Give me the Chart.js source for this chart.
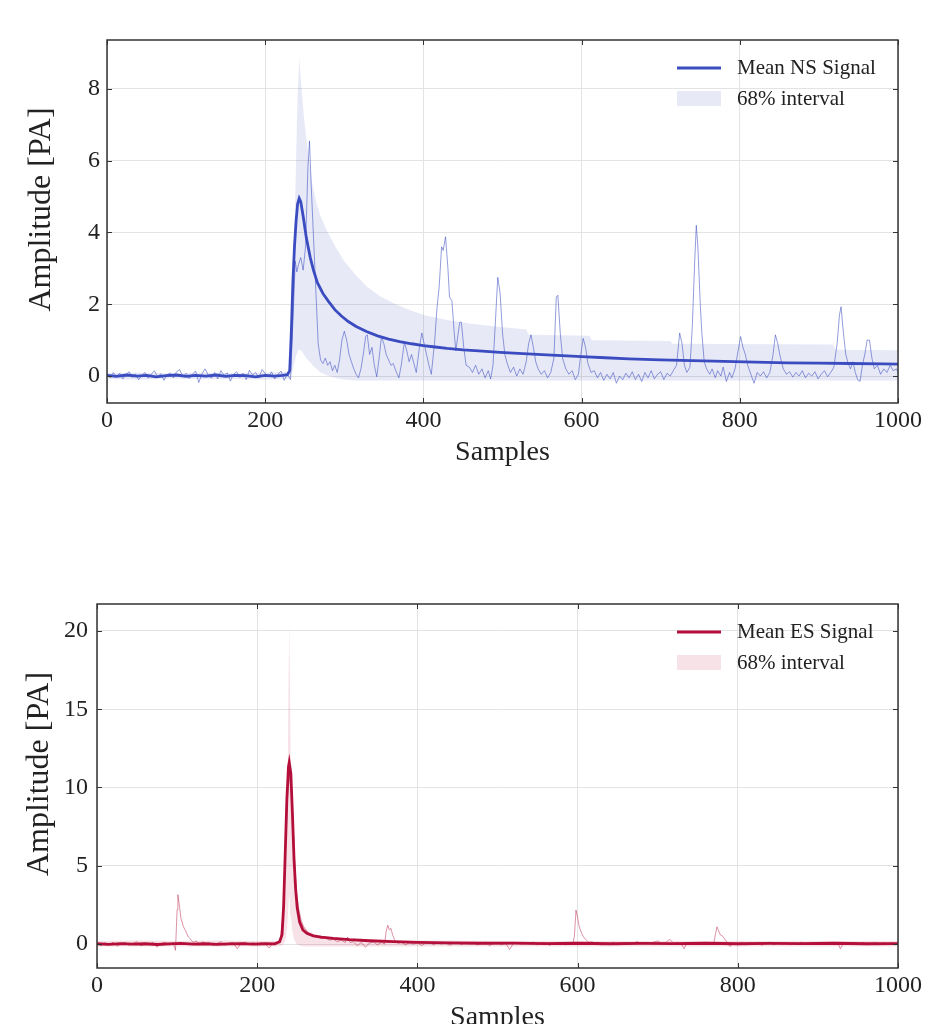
<!DOCTYPE html>
<html>
<head>
<meta charset="utf-8">
<script src="https://cdn.jsdelivr.net/npm/chart.js@4.4.1/dist/chart.umd.min.js"></script>
<style>
  html, body { margin: 0; padding: 0; background: #fff; overflow: hidden; }
  canvas { display: block; }
</style>
</head>
<body>
<canvas id="nsChart" width="927" height="490"></canvas>
<canvas id="esChart" width="927" height="565"></canvas>
<script>
// ---- data ----
const xTicks = [0, 200, 400, 600, 800, 1000];

// mean NS signal [sample, amplitude]
const nsMean = [[0,0.02],[12,-0.01],[25,0.03],[38,0.0],[50,0.02],[62,-0.02],[75,0.01],[88,0.03],[100,-0.01],[112,0.02],[125,0.0],[138,0.03],[150,-0.01],[162,0.02],[175,0.01],[188,-0.02],[200,0.02],[212,0.0],[222,0.02],[228,0.04],[231,0.15],[233,1.2],[235,2.6],[237,3.6],[239,4.3],[241,4.8],[243,4.95],[245,4.85],[248,4.45],[252,3.85],[257,3.3],[261,2.95],[266,2.6],[273,2.3],[280,2.08],[288,1.85],[296,1.68],[305,1.52],[315,1.38],[328,1.24],[342,1.12],[356,1.03],[370,0.96],[385,0.9],[400,0.85],[415,0.81],[430,0.77],[450,0.73],[470,0.7],[497,0.66],[520,0.63],[550,0.6],[575,0.57],[600,0.54],[630,0.51],[660,0.48],[700,0.45],[740,0.43],[780,0.41],[820,0.39],[860,0.37],[900,0.36],[940,0.35],[980,0.34],[1000,0.33]];

// one NS sample trace
const nsTrace = [[0,0.05],[4,-0.05],[8,0.1],[12,-0.02],[16,0.08],[20,-0.08],[24,0.04],[28,0.12],[32,-0.04],[36,0.06],[40,-0.1],[44,0.02],[48,0.1],[52,-0.06],[56,0.05],[60,0.15],[64,-0.03],[68,0.07],[72,-0.12],[76,0.04],[80,0.09],[84,-0.05],[88,0.12],[92,0.18],[96,-0.02],[100,0.08],[104,-0.07],[108,0.05],[112,0.14],[116,-0.18],[120,0.06],[124,0.2],[128,0.03],[132,-0.06],[136,0.1],[140,-0.08],[144,0.15],[148,0.02],[152,0.09],[156,-0.14],[160,0.05],[164,0.12],[168,-0.04],[172,0.08],[176,-0.1],[180,0.16],[184,0.03],[188,0.1],[192,-0.05],[196,0.18],[200,0.07],[204,-0.03],[208,0.12],[212,-0.08],[216,0.05],[220,0.14],[224,-0.12],[228,0.06],[232,-0.1],
  [235,1.5],[238,3.2],[240,2.9],[242,3.1],[245,3.3],[248,2.95],[251,3.6],[254,5.8],[256,6.55],[258,5.4],[261,3.9],[264,2.4],[267,0.9],[270,0.45],[273,0.35],[276,0.5],[279,0.3],[282,0.4],[285,0.15],[288,0.3],[291,0.1],[294,0.45],[297,1.0],[300,1.25],[303,1.0],[306,0.6],[309,0.4],[312,0.2],[315,0.05],[318,-0.05],[321,0.2],[324,0.6],[327,1.1],[329,1.15],[332,0.6],[335,0.8],[338,0.3],[341,-0.02],[344,0.5],[347,1.1],[350,0.9],[353,0.6],[356,0.45],[359,0.3],[362,0.35],[365,0.15],[369,-0.05],[372,0.3],[376,0.95],[379,0.7],[382,0.4],[385,0.6],[388,0.35],[391,0.1],[395,0.8],[398,1.2],[401,0.9],[404,0.6],[407,0.3],[410,0.05],[414,0.9],[417,1.85],[420,2.5],[423,3.6],[425,3.5],[428,3.88],[431,3.0],[433,2.2],[436,2.1],[439,1.2],[441,0.7],[444,1.2],[446,1.5],[448,1.5],[451,0.8],[454,0.3],[458,0.25],[462,0.1],[466,0.3],[470,0.05],[474,0.2],[478,-0.05],[482,0.15],[485,-0.08],[488,0.3],[491,1.5],[494,2.75],[497,2.3],[500,1.2],[503,0.6],[506,0.35],[510,0.1],[514,0.25],[518,0.0],[522,0.2],[526,0.05],[530,0.4],[533,0.9],[536,1.15],[539,0.8],[542,0.4],[545,0.2],[549,0.05],[553,0.15],[557,-0.05],[561,0.1],[565,0.5],[568,2.2],[570,2.25],[573,1.2],[576,0.5],[580,0.2],[584,0.05],[588,0.15],[592,-0.1],[596,0.05],[599,0.6],[602,1.05],[605,0.8],[608,0.35],[612,0.1],[616,0.15],[620,-0.05],[624,0.1],[628,-0.12],[632,0.05],[636,-0.08],[640,0.1],[644,-0.2],[648,0.0],[652,-0.1],[656,0.08],[660,-0.05],[664,0.12],[668,-0.1],[672,0.05],[676,-0.15],[680,0.1],[684,-0.05],[688,0.15],[692,-0.08],[696,0.05],[700,0.12],[704,-0.1],[708,0.08],[712,0.0],[716,0.15],[720,0.3],[724,1.2],[727,0.9],[730,0.3],[733,0.1],[737,0.25],[740,1.4],[743,3.2],[745,4.2],[747,3.6],[750,2.0],[752,1.2],[755,0.4],[758,0.2],[762,0.05],[765,0.2],[769,-0.05],[772,0.15],[776,0.0],[779,0.25],[783,-0.15],[787,0.1],[790,-0.05],[794,0.2],[797,0.6],[801,1.1],[804,0.8],[807,0.6],[810,0.3],[814,0.05],[818,-0.2],[822,0.1],[826,0.0],[830,0.12],[834,-0.05],[838,0.1],[842,0.6],[845,1.15],[848,0.9],[851,0.55],[855,0.2],[859,0.05],[863,0.12],[867,-0.03],[871,0.1],[875,0.0],[879,0.15],[883,-0.05],[887,0.08],[891,0.0],[895,0.12],[899,-0.08],[903,0.05],[907,0.15],[911,-0.02],[915,0.1],[919,0.25],[923,0.9],[926,1.7],[928,1.93],[931,1.2],[934,0.6],[937,0.35],[940,0.2],[943,0.4],[946,0.1],[949,-0.1],[952,-0.15],[955,0.3],[958,0.6],[961,1.0],[964,1.0],[967,0.5],[970,0.2],[974,0.3],[978,0.05],[982,0.2],[986,0.1],[990,0.3],[994,0.15],[998,0.2],[1000,0.1]];

// NS 68% interval
const nsBandX  = [0,40,80,120,160,200,230,233,236,239,241,243,246,249,252,256,260,265,270,278,290,300,315,328,345,365,385,404,430,460,497,530,533,610,613,712,715,918,921,1000];
const nsBandHi = [0.08,0.1,0.07,0.1,0.08,0.09,0.12,0.9,3.0,6.0,7.8,8.85,8.0,7.2,6.6,5.9,5.3,4.8,4.45,4.05,3.55,3.2,2.8,2.5,2.22,2.0,1.82,1.68,1.56,1.46,1.37,1.3,1.15,1.12,1.0,0.98,0.9,0.88,0.73,0.72];
const nsBandLo = [-0.08,-0.1,-0.07,-0.09,-0.08,-0.1,-0.08,0.0,0.3,0.55,0.68,0.75,0.7,0.6,0.5,0.4,0.3,0.2,0.1,0.02,-0.06,-0.1,-0.12,-0.12,-0.12,-0.12,-0.12,-0.12,-0.12,-0.12,-0.12,-0.12,-0.12,-0.12,-0.12,-0.12,-0.12,-0.12,-0.12,-0.12];

// mean ES signal
const esMean = [[0,0.02],[15,-0.02],[30,0.03],[45,0.0],[60,0.02],[75,-0.03],[90,0.01],[105,0.04],[120,0.0],[135,0.02],[150,-0.02],[165,0.01],[180,0.03],[195,-0.01],[210,0.02],[222,0.01],[228,0.15],[231,0.6],[233,2.4],[235,5.8],[237,9.2],[239,11.3],[240,11.6],[242,10.9],[244,8.3],[246,5.4],[248,3.5],[250,2.3],[253,1.4],[257,0.9],[262,0.68],[270,0.52],[280,0.44],[295,0.36],[315,0.28],[340,0.21],[370,0.15],[400,0.11],[440,0.07],[480,0.05],[520,0.06],[560,0.03],[600,0.05],[640,0.02],[680,0.04],[720,0.03],[760,0.05],[800,0.02],[840,0.04],[880,0.03],[920,0.05],[960,0.02],[1000,0.03]];

// one ES sample trace
const esTrace = [[0,0.05],[5,-0.1],[10,0.08],[15,-0.05],[20,0.12],[25,-0.15],[30,0.02],[35,0.1],[40,-0.08],[45,0.05],[50,0.15],[55,-0.12],[60,0.06],[65,-0.03],[70,0.1],[75,-0.2],[80,0.04],[85,0.12],[90,-0.06],[95,0.08],[98,-0.4],[100,2.2],[101,3.15],[103,2.4],[105,1.6],[108,1.1],[111,0.8],[114,0.45],[117,0.3],[120,0.1],[124,0.2],[128,-0.05],[132,0.15],[136,0.0],[140,0.1],[145,-0.1],[150,0.05],[155,0.15],[160,-0.08],[165,0.06],[170,0.1],[175,-0.3],[180,0.05],[185,0.12],[190,-0.04],[195,0.1],[200,-0.06],[205,0.08],[210,0.0],[215,-0.25],[220,0.08],[225,0.02],
  [229,0.3],[232,1.8],[235,5.5],[238,9.6],[241,10.9],[243,9.8],[245,7.5],[247,5.0],[249,3.3],[252,2.2],[255,1.5],[258,1.1],[262,0.8],[266,0.65],[270,0.5],[275,0.45],[280,0.35],[285,0.4],[290,0.25],[295,0.3],[300,0.15],[305,0.25],[310,0.1],[313,0.45],[316,0.1],[320,0.15],[325,-0.1],[330,0.1],[335,-0.2],[340,0.05],[345,0.15],[350,-0.05],[355,0.1],[359,0.0],[361,0.8],[363,1.2],[365,0.9],[367,1.0],[369,0.6],[372,0.2],[376,0.05],[380,0.12],[385,-0.05],[390,0.08],[395,0.0],[400,0.1],[405,-0.1],[410,0.06],[415,0.12],[420,-0.05],[425,0.08],[430,0.0],[435,0.1],[440,-0.08],[445,0.05],[450,0.12],[455,-0.04],[460,0.08],[465,0.0],[470,0.1],[475,-0.06],[480,0.05],[485,0.12],[490,-0.1],[495,0.04],[500,0.1],[505,-0.05],[510,0.08],[515,-0.35],[520,0.05],[525,0.1],[530,-0.03],[535,0.08],[540,0.0],[545,0.12],[550,-0.05],[555,0.06],[560,0.1],[565,-0.08],[570,0.05],[575,0.0],[580,0.1],[585,-0.05],[590,0.08],[594,0.0],[596,0.5],[598,2.17],[600,1.7],[602,1.1],[605,0.7],[608,0.4],[611,0.25],[614,0.1],[618,0.15],[622,0.0],[626,0.1],[630,-0.06],[635,0.08],[640,0.02],[645,0.1],[650,-0.05],[655,0.06],[660,0.1],[665,-0.04],[670,0.08],[675,0.15],[680,0.0],[685,0.1],[690,0.05],[695,0.12],[700,0.2],[705,0.05],[710,0.1],[715,0.3],[720,0.05],[725,0.1],[730,-0.05],[733,-0.3],[736,0.05],[740,0.1],[745,0.0],[750,0.08],[755,0.05],[760,0.1],[765,0.0],[770,0.05],[772,0.6],[774,1.1],[776,0.85],[778,0.6],[781,0.5],[784,0.3],[787,0.1],[790,-0.15],[795,0.05],[800,0.0],[805,0.1],[810,-0.05],[815,0.08],[820,0.0],[825,0.1],[830,-0.08],[835,0.05],[840,0.12],[845,-0.05],[850,0.08],[855,0.0],[860,0.1],[865,-0.05],[870,0.08],[875,0.0],[880,0.12],[885,-0.04],[890,0.06],[895,0.1],[900,-0.05],[905,0.08],[910,0.0],[915,0.1],[920,-0.05],[925,0.05],[928,-0.3],[932,0.05],[937,0.1],[942,-0.05],[947,0.08],[952,0.0],[957,0.1],[962,-0.06],[967,0.05],[972,0.1],[977,-0.04],[982,0.08],[987,0.0],[992,0.1],[997,-0.05],[1000,0.05]];

// ES 68% interval
const esBandX  = [0,50,100,150,200,225,231,234,236,238,239,240,241,242,244,246,249,253,258,265,275,290,310,340,380,420,500,600,700,800,900,1000];
const esBandHi = [0.2,0.22,0.2,0.22,0.2,0.2,0.5,1.8,4.5,10,16,20.5,16,11,6.5,4.0,2.6,1.7,1.15,0.8,0.6,0.45,0.38,0.3,0.25,0.22,0.2,0.2,0.2,0.2,0.2,0.2];
const esBandLo = [-0.15,-0.15,-0.15,-0.15,-0.15,-0.15,-0.1,0.1,0.5,1.5,2.5,3.2,2.6,1.8,0.8,0.3,0.0,-0.1,-0.15,-0.15,-0.15,-0.15,-0.15,-0.15,-0.15,-0.15,-0.15,-0.15,-0.15,-0.15,-0.15,-0.15];

const SERIF = '"Liberation Serif", "DejaVu Serif", serif';
Chart.defaults.font.family = SERIF;
Chart.defaults.color = '#222';

function pairs(list) {
    return list.map(p => ({x: p[0], y: p[1]}));
}
function zip(xs, ys) {
    return xs.map((x, i) => ({x: x, y: ys[i]}));
}

// inward ticks on all four sides, dark frame, and the y title
const framePlugin = {
    id: 'frame',
    afterDatasetsDraw(chart, args, opts) {
        const {ctx, chartArea: a, scales} = chart;
        const xs = scales.x, ys = scales.y;
        ctx.save();
        ctx.strokeStyle = '#333';
        ctx.lineWidth = 1;
        ctx.beginPath();
        xs.ticks.forEach(t => {
            const px = Math.round(xs.getPixelForValue(t.value)) + 0.5;
            ctx.moveTo(px, a.bottom); ctx.lineTo(px, a.bottom - 5);
            ctx.moveTo(px, a.top); ctx.lineTo(px, a.top + 5);
        });
        ys.ticks.forEach(t => {
            const py = Math.round(ys.getPixelForValue(t.value)) + 0.5;
            ctx.moveTo(a.left, py); ctx.lineTo(a.left + 5, py);
            ctx.moveTo(a.right, py); ctx.lineTo(a.right - 5, py);
        });
        ctx.stroke();
        ctx.lineWidth = 1.5;
        ctx.strokeRect(a.left, a.top, a.right - a.left, a.bottom - a.top);

        // y axis title (matplotlib sits it a little above the middle here)
        ctx.translate(opts.titleX, (a.top + a.bottom) / 2 - 12);
        ctx.rotate(-Math.PI / 2);
        ctx.fillStyle = '#222';
        ctx.font = '32px ' + SERIF;
        ctx.textAlign = 'center';
        ctx.textBaseline = 'middle';
        ctx.fillText(ys.options.title.text, 0, 0);
        ctx.restore();
    }
};

// legend inside the plot, top right, no frame
const cornerLegend = {
    id: 'cornerLegend',
    afterDraw(chart) {
        const {ctx, chartArea: a} = chart;
        const ds = chart.data.datasets;
        const x0 = a.right - 221, x1 = a.right - 177, tx = a.right - 161;
        ctx.save();
        ctx.strokeStyle = ds[0].borderColor;
        ctx.lineWidth = 3;
        ctx.beginPath();
        ctx.moveTo(x0, a.top + 28);
        ctx.lineTo(x1, a.top + 28);
        ctx.stroke();
        ctx.fillStyle = ds[2].backgroundColor;
        ctx.fillRect(x0, a.top + 51, x1 - x0, 15);
        ctx.fillStyle = '#222';
        ctx.font = '21px ' + SERIF;
        ctx.textBaseline = 'middle';
        ctx.textAlign = 'left';
        ctx.fillText(ds[0].label, tx, a.top + 28);
        ctx.fillText(ds[2].label, tx, a.top + 59);
        ctx.restore();
    }
};

function makeChart(id, o) {
    const ctx = document.getElementById(id).getContext('2d');
    return new Chart(ctx, {
        type: 'line',
        data: {
            datasets: [
                { label: o.meanLabel, data: pairs(o.mean), borderColor: o.color, borderWidth: 2.8 },
                { label: 'sample', data: pairs(o.trace), borderColor: o.traceColor, borderWidth: 1 },
                { label: '68% interval', data: zip(o.bandX, o.bandHi), borderWidth: 0,
                  backgroundColor: o.bandColor, fill: '+1' },
                { label: 'lower', data: zip(o.bandX, o.bandLo), borderWidth: 0, fill: false }
            ]
        },
        options: {
            responsive: false,
            animation: false,
            devicePixelRatio: 1,
            layout: { padding: { top: o.top, right: 29, left: 0, bottom: 0 } },
            elements: { point: { radius: 0 }, line: { tension: 0 } },
            plugins: {
                legend: { display: false },
                tooltip: { enabled: false },
                frame: { titleX: o.titleX }
            },
            scales: {
                x: {
                    type: 'linear', min: 0, max: 1000,
                    afterBuildTicks: s => { s.ticks = xTicks.map(v => ({value: v})); },
                    afterFit: s => { s.height = 87; },
                    grid: { color: '#e3e3e3', lineWidth: 1, drawTicks: false },
                    border: { display: false },
                    ticks: { padding: 3, font: { size: 24 }, color: '#222', maxRotation: 0,
                             callback: v => String(v) },
                    title: { display: true, text: 'Samples', font: { size: 28 }, color: '#222',
                             padding: { top: 0, bottom: 21 } }
                },
                y: {
                    type: 'linear', min: o.yMin, max: o.yMax,
                    afterBuildTicks: s => { s.ticks = o.yTicks.map(v => ({value: v})); },
                    afterFit: s => { s.width = o.left; },
                    grid: { color: '#e3e3e3', lineWidth: 1, drawTicks: false },
                    border: { display: false },
                    ticks: { padding: o.yPad, font: { size: 24 }, color: '#222',
                             callback: v => String(v) },
                    title: { display: false, text: 'Amplitude [PA]' }
                }
            }
        },
        plugins: [framePlugin, cornerLegend]
    });
}

makeChart('nsChart', {
    meanLabel: 'Mean NS Signal',
    mean: nsMean, trace: nsTrace,
    bandX: nsBandX, bandHi: nsBandHi, bandLo: nsBandLo,
    color: '#3b4cc0', traceColor: 'rgba(59,76,192,0.55)', bandColor: 'rgba(59,76,192,0.12)',
    yMin: -0.75, yMax: 9.36, yTicks: [0, 2, 4, 6, 8],
    top: 40, left: 107, yPad: 7, titleX: 42
});

makeChart('esChart', {
    meanLabel: 'Mean ES Signal',
    mean: esMean, trace: esTrace,
    bandX: esBandX, bandHi: esBandHi, bandLo: esBandLo,
    color: '#b40f3a', traceColor: 'rgba(180,15,58,0.45)', bandColor: 'rgba(180,15,58,0.12)',
    yMin: -1.53, yMax: 21.72, yTicks: [0, 5, 10, 15, 20],
    top: 114, left: 97, yPad: 9, titleX: 40
});
</script>
</body>
</html>
